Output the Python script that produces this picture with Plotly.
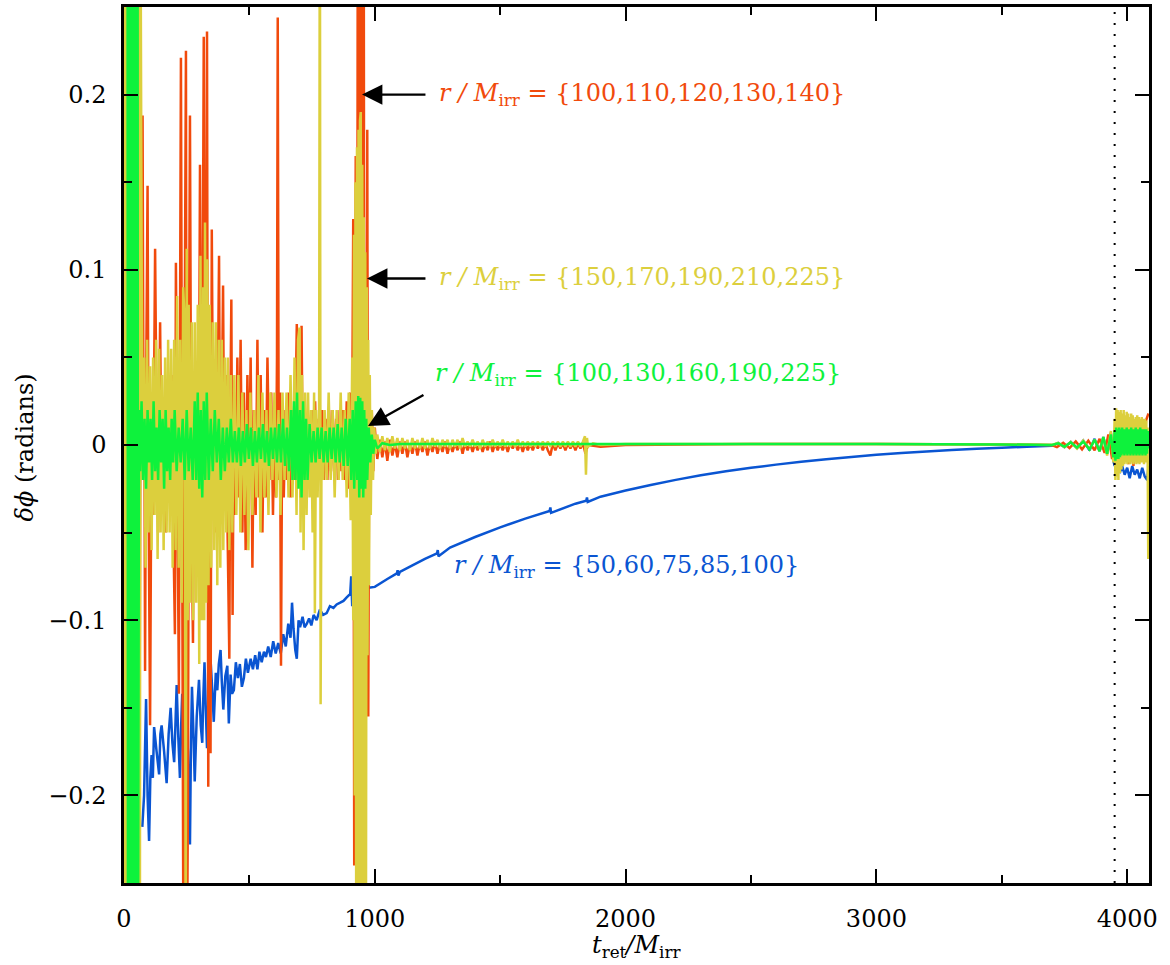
import plotly.graph_objects as go

# ---- series: phase difference vs retarded time -------------------------

# r/M_irr = {100,110,120,130,140}
orange_t = [
    40, 44, 48, 52, 56, 60, 66, 70, 74, 78,
    82, 84, 88, 94, 98, 104, 110, 116, 124, 130,
    136, 144, 150, 158, 166, 174, 182, 190, 198, 203,
    207, 213, 219, 223, 227, 232, 237, 242, 247, 251,
    255, 259, 263, 268, 275, 280, 286, 292, 297, 303,
    308, 313, 318, 322, 326, 331, 336, 341, 345, 350,
    356, 362, 368, 374, 379, 384, 390, 395, 400, 406,
    413, 420, 424, 428, 433, 438, 445, 452, 458, 465,
    472, 478, 485, 492, 498, 505, 512, 518, 525, 532,
    538, 545, 552, 558, 565, 572, 580, 587, 594, 600,
    606, 610, 613, 617, 622, 626, 631, 637, 644, 650,
    657, 664, 670, 677, 683, 689, 694, 700, 704, 708,
    713, 720, 727, 734, 741, 748, 755, 762, 769, 776,
    783, 790, 797, 804, 811, 818, 825, 832, 839, 846,
    853, 860, 867, 874, 881, 888, 895, 902, 908, 914,
    918, 922, 924, 928, 932, 936, 940, 944, 948, 952,
    956, 960, 964, 967, 970, 974, 978, 983, 988, 994,
    1000, 1010, 1020, 1030, 1040, 1050, 1060, 1070, 1080, 1090,
    1100, 1110, 1120, 1130, 1140, 1150, 1160, 1170, 1180, 1190,
    1200, 1210, 1220, 1230, 1240, 1250, 1260, 1270, 1280, 1290,
    1300, 1310, 1320, 1330, 1340, 1350, 1360, 1370, 1380, 1390,
    1400, 1410, 1420, 1430, 1440, 1450, 1460, 1470, 1480, 1490,
    1500, 1510, 1520, 1530, 1540, 1550, 1560, 1570, 1580, 1590,
    1600, 1610, 1620, 1630, 1640, 1650, 1660, 1670, 1680, 1690,
    1700, 1710, 1720, 1730, 1740, 1750, 1760, 1770, 1780, 1790,
    1800, 1810, 1820, 1830, 1840, 1850, 1900, 2000, 2500, 3000,
    3500, 3700, 3720, 3745, 3770, 3795, 3820, 3845, 3870, 3890,
    3910, 3925, 3940, 3955, 3965, 3975, 3985, 3995, 4005, 4015,
    4025, 4035, 4045, 4055, 4065, 4075, 4085,
]
orange_v = [
    0.3, -0.3, 0.3, -0.3, 0.28, -0.27, 0.05, -0.02, 0.188, 0.0,
    -0.02, -0.129, 0.03, 0.148, -0.03, -0.16, 0.02, -0.04, 0.112, 0.01,
    -0.05, 0.07, -0.03, 0.02, -0.05, 0.03, -0.02, 0.04, -0.06, -0.108,
    0.104, -0.03, -0.142, 0.05, 0.221, -0.05, -0.3, 0.06, 0.225, -0.3,
    -0.2, 0.04, 0.188, -0.02, -0.113, 0.03, -0.05, 0.02, -0.06, 0.16,
    -0.02, 0.05, 0.233, -0.04, 0.02, 0.236, -0.195, 0.06, -0.176, 0.123,
    -0.02, 0.04, -0.05, 0.03, 0.108, -0.04, 0.02, 0.091, -0.03, 0.04,
    -0.05, -0.122, 0.02, 0.083, -0.097, 0.03, -0.04, 0.05, -0.03, 0.06,
    -0.05, 0.03, -0.06, 0.04, -0.02, 0.05, -0.07, 0.02, -0.04, 0.06,
    -0.03, 0.04, -0.05, 0.02, -0.03, 0.05, -0.02, 0.03, -0.04, 0.02,
    -0.03, 0.05, 0.244, -0.02, 0.03, -0.126, 0.02, -0.03, 0.02, -0.02,
    0.03, -0.03, 0.02, -0.02, 0.01, 0.069, -0.01, 0.02, -0.03, 0.068,
    -0.02, 0.02, -0.02, 0.015, -0.025, 0.02, -0.02, 0.025, -0.02, 0.015,
    -0.015, 0.02, -0.02, 0.015, -0.02, 0.02, -0.015, 0.02, -0.02, 0.015,
    -0.02, 0.02, -0.015, 0.02, -0.02, 0.025, -0.025, 0.03, -0.04, 0.129,
    -0.24, 0.06, 0.165, -0.3, 0.3, -0.3, 0.3, -0.3, 0.3, -0.3,
    0.3, -0.3, 0.06, -0.05, 0.18, -0.155, 0.03, -0.02, 0.02, -0.015,
    0.01, -0.008, 0.003, -0.007, 0.002, -0.009, 0.003, -0.006, 0.001, -0.007,
    0.002, -0.005, 0.002, -0.007, 0.001, -0.005, 0.002, -0.006, 0.001, -0.004,
    0.002, -0.006, 0.001, -0.004, 0.002, -0.005, 0.001, -0.004, 0.002, -0.005,
    0.001, -0.004, 0.001, -0.003, 0.002, -0.005, 0.001, -0.003, 0.001, -0.004,
    0.001, -0.003, 0.001, -0.004, 0.001, -0.003, 0.002, -0.004, 0.001, -0.003,
    0.001, -0.003, 0.001, -0.004, 0.001, -0.002, 0.001, -0.003, 0.001, -0.004,
    0.001, -0.003, 0.001, -0.003, 0.001, -0.002, 0.001, -0.003, 0.001, -0.003,
    -0.006, 0.001, -0.003, 0.001, -0.002, 0.001, -0.003, 0.001, -0.002, 0.001,
    -0.003, 0.001, -0.002, 0.001, -0.005, 0.0, -0.001, 0.0, 0.0005, 0.0005,
    0.0003, 0.0, -0.0012, 0.0012, -0.0018, 0.002, -0.0025, 0.0025, -0.003, 0.0035,
    -0.0045, 0.006, -0.008, 0.01, -0.012, 0.011, -0.01, 0.012, -0.011, 0.01,
    -0.012, 0.011, -0.01, 0.012, -0.009, 0.014, 0.018,
]

# r/M_irr = {150,170,190,210,225}
yellow_t = [
    0, 3, 6, 9, 12, 15, 18, 21, 24, 27,
    30, 33, 36, 39, 42, 45, 48, 51, 54, 57,
    60, 63, 66, 70, 74, 80, 86, 92, 98, 104,
    110, 116, 122, 128, 134, 140, 146, 152, 158, 164,
    170, 176, 182, 188, 194, 200, 206, 212, 218, 224,
    230, 236, 242, 246, 250, 254, 258, 264, 270, 276,
    282, 288, 294, 300, 305, 310, 316, 320, 323, 327,
    332, 337, 342, 348, 354, 360, 366, 372, 378, 384,
    390, 396, 402, 408, 414, 420, 426, 432, 440, 448,
    456, 464, 472, 480, 488, 496, 504, 512, 520, 528,
    536, 544, 552, 560, 568, 576, 584, 592, 600, 608,
    616, 624, 632, 640, 648, 656, 664, 672, 680, 688,
    694, 700, 704, 710, 716, 722, 728, 734, 740, 746,
    752, 758, 761, 766, 772, 778, 781, 784, 788, 794,
    800, 808, 816, 824, 832, 840, 848, 856, 864, 872,
    880, 888, 896, 904, 910, 914, 917, 920, 923, 926,
    929, 932, 935, 938, 941, 944, 947, 950, 953, 956,
    959, 962, 965, 968, 971, 974, 977, 980, 984, 988,
    993, 998, 1004, 1010, 1020, 1030, 1040, 1050, 1060, 1070,
    1080, 1090, 1100, 1110, 1120, 1130, 1140, 1150, 1160, 1170,
    1180, 1190, 1200, 1210, 1220, 1230, 1240, 1250, 1260, 1270,
    1280, 1290, 1300, 1310, 1320, 1330, 1340, 1350, 1360, 1370,
    1380, 1390, 1400, 1410, 1420, 1430, 1440, 1450, 1460, 1470,
    1480, 1490, 1500, 1510, 1520, 1530, 1540, 1550, 1560, 1570,
    1580, 1590, 1600, 1610, 1620, 1630, 1640, 1650, 1660, 1670,
    1680, 1690, 1700, 1710, 1720, 1730, 1740, 1750, 1760, 1770,
    1780, 1790, 1800, 1810, 1820, 1830, 1838, 1842, 1846, 1850,
    1870, 1900, 2000, 2500, 3000, 3500, 3700, 3725, 3750, 3775,
    3800, 3825, 3850, 3870, 3890, 3905, 3920, 3935, 3945, 3950,
    3953, 3956, 3959, 3962, 3965, 3968, 3971, 3974, 3977, 3980,
    3983, 3986, 3989, 3992, 3995, 3998, 4001, 4004, 4007, 4010,
    4013, 4016, 4019, 4022, 4025, 4028, 4031, 4034, 4037, 4040,
    4043, 4046, 4049, 4052, 4055, 4058, 4061, 4064, 4067, 4070,
    4073, 4076, 4079, 4081, 4084,
]
yellow_v = [
    0.4, -0.4, 0.4, -0.4, 0.4, -0.4, 0.4, -0.4, 0.4, -0.4,
    0.4, -0.4, 0.4, -0.4, 0.4, -0.4, 0.4, -0.4, 0.4, -0.4,
    0.4, -0.4, 0.3, 0.118, -0.02, 0.05, -0.07, 0.06, -0.05, 0.045,
    -0.06, 0.05, -0.04, 0.06, -0.065, 0.055, -0.05, 0.04, -0.06, 0.05,
    -0.05, 0.06, -0.05, 0.055, -0.07, 0.06, -0.06, 0.085, -0.07, 0.06,
    -0.09, 0.09, 0.07, -0.3, 0.112, -0.1, 0.08, -0.09, 0.07, -0.1,
    0.07, -0.09, 0.08, -0.125, 0.108, -0.1, 0.09, -0.1, 0.127, -0.09,
    0.106, -0.08, 0.08, -0.07, 0.07, -0.06, 0.07, -0.08, 0.06, -0.07,
    0.06, -0.06, 0.05, -0.05, 0.05, -0.06, 0.04, -0.05, 0.04, -0.04,
    0.04, -0.05, 0.03, -0.04, 0.02, -0.06, 0.03, -0.04, 0.02, -0.03,
    0.04, -0.05, 0.03, -0.03, 0.02, -0.04, 0.03, -0.02, 0.03, -0.03,
    0.02, -0.04, 0.03, -0.02, 0.03, -0.03, 0.04, -0.03, 0.05, -0.04,
    0.06, 0.067, -0.05, 0.04, -0.06, 0.03, -0.04, 0.03, -0.03, 0.02,
    -0.05, 0.03, -0.096, 0.02, -0.03, 0.02, 0.35, -0.148, 0.01, -0.02,
    0.02, -0.02, 0.03, -0.02, 0.02, -0.03, 0.02, -0.02, 0.03, -0.02,
    0.02, -0.03, 0.03, -0.043, 0.05, -0.1, 0.12, -0.2, 0.15, -0.3,
    0.17, -0.3, 0.18, -0.3, 0.185, 0.19, -0.3, 0.16, -0.3, 0.13,
    -0.3, 0.11, -0.25, 0.09, -0.12, 0.06, -0.08, 0.04, -0.04, 0.02,
    -0.02, 0.01, -0.005, 0.006, -0.004, 0.005, -0.003, 0.004, -0.004, 0.005,
    -0.002, 0.004, -0.003, 0.004, -0.002, 0.003, -0.003, 0.004, -0.002, 0.003,
    -0.002, 0.004, -0.002, 0.003, -0.002, 0.004, -0.001, 0.003, -0.002, 0.003,
    -0.001, 0.003, -0.002, 0.003, -0.001, 0.003, -0.002, 0.004, -0.001, 0.002,
    -0.001, 0.003, -0.001, 0.002, -0.002, 0.003, -0.001, 0.002, -0.001, 0.003,
    -0.001, 0.002, -0.001, 0.003, -0.001, 0.002, -0.001, 0.002, -0.001, 0.003,
    -0.001, 0.002, -0.001, 0.002, -0.001, 0.002, -0.001, 0.002, -0.001, 0.002,
    -0.001, 0.002, -0.001, 0.002, -0.001, 0.002, -0.001, 0.002, -0.001, 0.002,
    -0.001, 0.002, -0.001, 0.002, -0.001, 0.002, 0.005, -0.017, 0.004, -0.001,
    0.001, 0.0, 0.0005, 0.0005, 0.0005, 0.0003, 0.0, 0.0012, -0.0012, 0.0018,
    -0.002, 0.0025, -0.0025, 0.003, -0.0035, 0.0045, -0.006, 0.008, -0.01, 0.015,
    -0.02, 0.021, -0.018, 0.02, -0.02, 0.019, -0.016, 0.02, -0.014, 0.018,
    -0.012, 0.02, -0.011, 0.017, -0.01, 0.019, -0.011, 0.018, -0.01, 0.016,
    -0.011, 0.018, -0.01, 0.017, -0.011, 0.015, -0.01, 0.016, -0.011, 0.017,
    -0.01, 0.016, -0.011, 0.015, -0.01, 0.016, -0.01, 0.015, -0.011, 0.015,
    -0.01, 0.014, -0.01, 0.01, -0.065,
]

# r/M_irr = {100,130,160,190,225}
green_t = [
    14, 16, 18, 20, 22, 24, 26, 28, 30, 32,
    34, 36, 38, 40, 42, 44, 46, 48, 50, 52,
    54, 56, 60, 64, 70, 76, 82, 88, 94, 100,
    106, 112, 118, 124, 130, 136, 142, 148, 154, 160,
    166, 172, 178, 184, 190, 196, 202, 210, 218, 226,
    234, 242, 250, 258, 266, 274, 282, 288, 294, 300,
    306, 312, 318, 324, 330, 338, 346, 354, 362, 370,
    378, 386, 394, 402, 410, 418, 426, 434, 442, 450,
    458, 466, 474, 482, 490, 498, 506, 514, 522, 530,
    538, 546, 554, 562, 570, 578, 586, 594, 602, 610,
    618, 626, 634, 642, 650, 658, 666, 672, 678, 684,
    690, 696, 702, 708, 714, 720, 726, 732, 740, 748,
    756, 764, 772, 780, 788, 796, 804, 812, 820, 828,
    836, 844, 852, 860, 868, 876, 884, 892, 900, 906,
    912, 918, 924, 930, 934, 938, 942, 946, 950, 954,
    958, 962, 966, 970, 976, 982, 988, 994, 1000, 1010,
    1030, 1060, 1100, 1200, 1500, 2000, 2500, 3000, 3500, 3700,
    3725, 3750, 3775, 3800, 3825, 3850, 3870, 3890, 3905, 3920,
    3935, 3945, 3950, 3953, 3956, 3959, 3962, 3965, 3968, 3971,
    3974, 3977, 3980, 3983, 3986, 3989, 3992, 3995, 3998, 4001,
    4004, 4007, 4010, 4013, 4016, 4019, 4022, 4025, 4028, 4031,
    4034, 4037, 4040, 4043, 4046, 4049, 4052, 4055, 4058, 4061,
    4064, 4067, 4070, 4073, 4076, 4079, 4082, 4085,
]
green_v = [
    0.4, -0.4, 0.4, -0.4, 0.4, -0.4, 0.4, -0.4, 0.4, -0.4,
    0.4, -0.4, 0.4, -0.4, 0.4, -0.4, 0.4, -0.4, 0.4, -0.4,
    0.4, -0.3, 0.02, -0.015, 0.025, -0.02, 0.015, -0.025, 0.02, -0.01,
    0.015, -0.02, 0.025, -0.015, 0.01, -0.02, 0.02, -0.01, 0.015, -0.025,
    0.02, -0.015, 0.01, -0.02, 0.015, -0.01, 0.02, -0.015, 0.01, -0.01,
    0.015, -0.02, 0.02, -0.015, 0.01, -0.02, 0.025, -0.02, 0.03, -0.025,
    0.02, -0.03, 0.025, -0.02, 0.03, -0.02, 0.015, -0.015, 0.02, -0.01,
    0.015, -0.02, 0.01, -0.015, 0.01, -0.01, 0.015, -0.01, 0.008, -0.01,
    0.01, -0.012, 0.008, -0.01, 0.012, -0.008, 0.01, -0.012, 0.008, -0.01,
    0.01, -0.008, 0.012, -0.01, 0.008, -0.012, 0.01, -0.008, 0.01, -0.01,
    0.012, -0.01, 0.015, -0.012, 0.01, -0.015, 0.02, -0.02, 0.025, -0.02,
    0.03, -0.025, 0.02, -0.03, 0.025, -0.02, 0.015, -0.02, 0.012, -0.01,
    0.008, -0.01, 0.01, -0.008, 0.01, -0.01, 0.008, -0.01, 0.01, -0.008,
    0.01, -0.01, 0.012, -0.01, 0.01, -0.012, 0.015, -0.012, 0.015, -0.02,
    0.02, -0.025, 0.025, -0.02, 0.028, -0.03, 0.027, -0.025, 0.025, -0.03,
    0.02, -0.025, 0.015, -0.02, 0.01, -0.01, 0.006, -0.005, 0.003, -0.002,
    0.001, 0.0, 0.0005, 0.0005, 0.0005, 0.0005, 0.0005, 0.0005, 0.0003, 0.0,
    0.001, -0.001, 0.0015, -0.0015, 0.002, -0.0025, 0.003, -0.0035, 0.0045, -0.005,
    0.006, -0.007, 0.008, -0.009, 0.01, -0.008, 0.009, -0.008, 0.01, -0.007,
    0.009, -0.006, 0.01, -0.005, 0.009, -0.006, 0.009, -0.005, 0.01, -0.006,
    0.009, -0.005, 0.009, -0.006, 0.01, -0.005, 0.009, -0.006, 0.009, -0.005,
    0.01, -0.006, 0.009, -0.005, 0.009, -0.006, 0.01, -0.005, 0.009, -0.006,
    0.009, -0.005, 0.009, -0.006, 0.009, -0.005, 0.008, -0.002,
]

# r/M_irr = {50,60,75,85,100}
blue_t = [
    73, 80, 88, 94, 100, 105, 110, 115, 120, 130,
    140, 145, 150, 160, 170, 178, 186, 193, 200, 205,
    210, 216, 223, 228, 232, 240, 248, 255, 263, 267,
    271, 277, 282, 290, 299, 306, 312, 316, 321, 326,
    331, 338, 345, 352, 358, 366, 372, 378, 385, 390,
    396, 404, 412, 418, 425, 431, 438, 446, 454, 462,
    470, 478, 486, 494, 505, 514, 523, 532, 540, 549,
    558, 566, 575, 585, 595, 605, 615, 625, 635, 645,
    655, 664, 670, 676, 683, 689, 696, 702, 712, 720,
    729, 738, 747, 756, 768, 781, 794, 808, 821, 835,
    848, 862, 875, 888, 902, 906, 910, 914, 925, 950,
    975, 1000, 1050, 1088, 1091, 1094, 1100, 1150, 1200, 1248,
    1251, 1254, 1300, 1400, 1500, 1600, 1697, 1700, 1703, 1800,
    1843, 1846, 1849, 1900, 2000, 2100, 2200, 2300, 2400, 2500,
    2600, 2700, 2800, 2900, 3000, 3100, 3200, 3300, 3400, 3500,
    3600, 3700, 3725, 3750, 3775, 3800, 3825, 3850, 3870, 3890,
    3905, 3920, 3935, 3945, 3950, 3960, 3970, 3980, 3990, 4000,
    4010, 4020, 4030, 4040, 4050, 4060, 4070, 4080, 4085,
]
blue_v = [
    -0.218, -0.2, -0.145, -0.2, -0.226, -0.19, -0.177, -0.19, -0.161, -0.175,
    -0.188, -0.165, -0.16, -0.175, -0.193, -0.165, -0.15, -0.17, -0.181, -0.16,
    -0.137, -0.165, -0.19, -0.16, -0.142, -0.17, -0.155, -0.175, -0.228, -0.17,
    -0.138, -0.165, -0.192, -0.155, -0.134, -0.16, -0.17, -0.145, -0.124, -0.15,
    -0.173, -0.145, -0.122, -0.14, -0.158, -0.13, -0.14, -0.125, -0.117, -0.135,
    -0.151, -0.132, -0.126, -0.159, -0.131, -0.142, -0.14, -0.124, -0.133, -0.125,
    -0.138, -0.133, -0.122, -0.13, -0.122, -0.128, -0.12, -0.128, -0.118, -0.124,
    -0.118, -0.121, -0.115, -0.121, -0.112, -0.119, -0.113, -0.119, -0.108, -0.115,
    -0.102, -0.11, -0.09, -0.105, -0.117, -0.122, -0.1, -0.104, -0.098, -0.104,
    -0.102, -0.099, -0.103, -0.097, -0.1, -0.094, -0.097, -0.096, -0.092, -0.093,
    -0.091, -0.09, -0.089, -0.087, -0.085, -0.075, -0.092, -0.08, -0.084, -0.082,
    -0.0815, -0.081, -0.0765, -0.0733, -0.0715, -0.0745, -0.0725, -0.0687, -0.065, -0.0619,
    -0.060, -0.0635, -0.0585, -0.0525, -0.047, -0.042, -0.0377, -0.0357, -0.0387, -0.0335,
    -0.0318, -0.030, -0.0325, -0.0295, -0.026, -0.0228, -0.0199, -0.0173, -0.015, -0.013,
    -0.0112, -0.0096, -0.0081, -0.0068, -0.0056, -0.0046, -0.0037, -0.0029, -0.0022, -0.0016,
    -0.001, -0.0005, 0.0012, -0.0012, 0.0018, -0.0018, 0.0025, -0.003, 0.0035, -0.0035,
    0.0045, -0.005, 0.007, -0.009, -0.012, 0.006, -0.016, -0.012, -0.017, -0.013,
    -0.019, -0.012, -0.017, -0.014, -0.019, -0.013, -0.018, -0.02, -0.012,
]

# ---- axes and labels ----------------------------------------------------
x_ticks = [0, 1000, 2000, 3000, 4000]
x_ticktext = ["0", "1000", "2000", "3000", "4000"]
y_ticks = [-0.2, -0.1, 0.0, 0.1, 0.2]
y_ticktext = ["\u22120.2", "\u22120.1", "0", "0.1", "0.2"]
x_range = [0, 4087]
y_range = [-0.25, 0.25]
merger_time = 3950

label_orange = "{100,110,120,130,140}"
label_yellow = "{150,170,190,210,225}"
label_green = "{100,130,160,190,225}"
label_blue = "{50,60,75,85,100}"

C_ORANGE = "#f14a0c"
C_YELLOW = "#dccf3d"
C_GREEN = "#0ef23c"
C_BLUE = "#0a55d2"
FONT = "DejaVu Serif"

series = [
    (blue_t, blue_v, C_BLUE),
    (orange_t, orange_v, C_ORANGE),
    (yellow_t, yellow_v, C_YELLOW),
    (green_t, green_v, C_GREEN),
]

fig = go.Figure()
for t, v, col in series:
    assert len(t) == len(v), (len(t), len(v))
    fig.add_trace(go.Scatter(
        x=t, y=v, mode="lines",
        line=dict(color=col, width=2.5, simplify=False),
        showlegend=False, hoverinfo="skip",
    ))

# dotted marker of the merger time
fig.add_shape(type="line", xref="x", yref="paper",
              x0=merger_time, x1=merger_time, y0=0, y1=1,
              line=dict(color="black", width=2, dash="2px,9px"), layer="above")


def rlabel(values):
    return "<i>r</i> <i>/</i> <i>M</i><sub>irr</sub> = " + values


arrows = [
    dict(x=949, y=0.2, ax=1208, ay=0.2),
    dict(x=969, y=0.095, ax=1208, ay=0.095),
    dict(x=973, y=0.0108, ax=1200, ay=0.029),
]
for a in arrows:
    fig.add_annotation(x=a["x"], y=a["y"], ax=a["ax"], ay=a["ay"],
                       xref="x", yref="y", axref="x", ayref="y",
                       text="", showarrow=True, arrowhead=2, arrowsize=1.7,
                       arrowwidth=2.4, arrowcolor="black", standoff=0)

for txt, tx, ty, col in [
    (label_orange, 1248, 0.2, C_ORANGE),
    (label_yellow, 1248, 0.095, C_YELLOW),
    (label_green, 1232, 0.040, C_GREEN),
    (label_blue, 1308, -0.0694, C_BLUE),
]:
    fig.add_annotation(x=tx, y=ty, xref="x", yref="y", text=rlabel(txt),
                       showarrow=False, xanchor="left", yanchor="middle",
                       font=dict(family=FONT, size=24, color=col))

# axis titles
fig.add_annotation(x=(636 - 124) / 1025, y=-(947 - 883) / 879,
                   xref="paper", yref="paper",
                   text="<i>t</i><sub>ret</sub><i>/</i><i>M</i><sub>irr</sub>",
                   showarrow=False, xanchor="center", yanchor="middle",
                   font=dict(family=FONT, size=24, color="black"))
fig.add_annotation(x=-(124 - 25) / 1025, y=(883 - 446) / 879,
                   xref="paper", yref="paper",
                   text="<i>\u03b4\u03d5</i> (radians)", textangle=-90,
                   showarrow=False, xanchor="center", yanchor="middle",
                   font=dict(family=FONT, size=24, color="black"))

axis_common = dict(
    showline=True, linecolor="black", linewidth=2.5, mirror="ticks",
    ticks="inside", ticklen=14, tickwidth=2, tickcolor="black",
    showgrid=False, zeroline=False,
    tickfont=dict(family=FONT, size=24, color="black"),
)
fig.update_xaxes(range=x_range, tickvals=x_ticks, ticktext=x_ticktext,
                 ticklabelstandoff=12,
                 minor=dict(ticks="inside", ticklen=8, tickwidth=2,
                            tickcolor="black", dtick=500, tick0=0, showgrid=False),
                 **axis_common)
fig.update_yaxes(range=y_range, tickvals=y_ticks, ticktext=y_ticktext,
                 ticklabelstandoff=10,
                 minor=dict(ticks="inside", ticklen=8, tickwidth=2,
                            tickcolor="black", dtick=0.05, tick0=0, showgrid=False),
                 **axis_common)

fig.update_layout(
    width=1170, height=965,
    margin=dict(l=124, r=21, t=4, b=82),
    paper_bgcolor="white", plot_bgcolor="white",
    font=dict(family=FONT),
)

fig.write_html("out.html")
